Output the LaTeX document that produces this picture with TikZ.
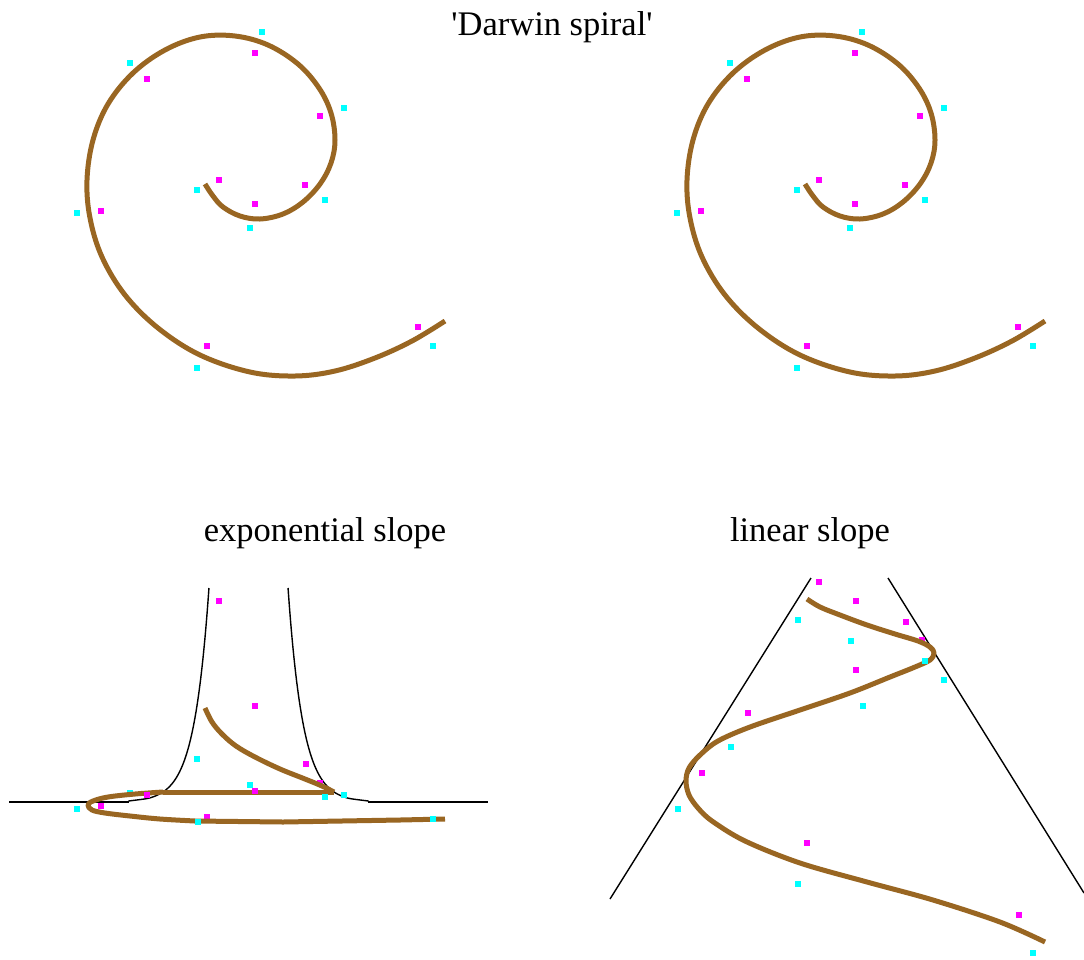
\documentclass[tikz,border=0pt]{standalone}
\usepackage{fontspec}
\setmainfont{Liberation Serif}
\definecolor{spiralbrown}{RGB}{153,102,34}
\definecolor{dotcyan}{RGB}{0,255,255}
\definecolor{dotmag}{RGB}{255,0,255}
\newcommand\DarwinSpiralPath{plot[smooth,tension=0.6] coordinates {(205,184) (213,196) (223,207) (240,216) (260,219) (283,214) (303,202) (320,184) (331,163) (335,140) (331,113) (319,88) (298,64) (268,45) (235,36) (200,37) (165,50) (133,73) (108,104) (93,140) (87,180) (90,218) (102,257) (125,295) (158,328) (200,355) (250,372) (295,376) (335,371) (375,358) (412,341) (445,321)}}
\begin{document}
\begin{tikzpicture}[x=1pt,y=-1pt,
  curve/.style={draw=spiralbrown,line width=5pt,line join=round},
  guide/.style={draw=black,line width=1.4pt},
  cdot/.style={rectangle,fill=dotcyan,minimum size=6pt,inner sep=0pt},
  mdot/.style={rectangle,fill=dotmag,minimum size=6pt,inner sep=0pt},
  lab/.style={anchor=base,inner sep=0pt,font=\fontsize{34.5}{40}\selectfont}]
\useasboundingbox[fill=white] (0,0) rectangle (1084,959);

% titles
\node[lab] (t1) at (552,35) {\textquotesingle Darwin spiral\textquotesingle};
\node[lab] (t2) at (325,541) {exponential slope};
\node[lab] (t3) at (810,541) {linear slope};

% Darwin spirals
\foreach \sx in {0,600}{
\begin{scope}[xshift=\sx pt]
\draw[curve] \DarwinSpiralPath;
\foreach \p in {(262,32),(130,63),(344,108),(197,190),(325,200),(250,228),(77,213),(433,346),(197,368)}
  \node[cdot] at \p {};
\foreach \p in {(255,53),(147,79),(320,116),(219,180),(305,185),(255,204),(101,211),(418,327),(207,346)}
  \node[mdot] at \p {};
\end{scope}}

% exponential slope
\draw[guide] (9,802) -- (129,802);
\draw[guide] plot[domain=1:214,samples=90,smooth] ({163+15*ln(\x/10)},{802-\x});
\draw[guide] plot[domain=1:214,samples=90,smooth] ({334-15*ln(\x/10)},{802-\x});
\draw[guide] (368,802) -- (488,802);
\node[mdot] at (320,783) {};
\node[mdot] at (207,817) {};
\node[cdot] at (130,793) {};
\draw[curve] plot[smooth,tension=0.6] coordinates {(205,708) (212,722) (222,734) (236,746) (255,757) (280,769) (305,779) (322,786) (334,792)};
\draw[curve] (334,792) -- (163,792);
\draw[curve] plot[smooth,tension=0.6] coordinates {(163,792) (135,794) (108,797) (93,801) (88,805) (92,810) (105,813) (130,816) (160,819) (195,821)};
\draw[curve] (195,821) -- (283,822) -- (400,820) -- (445,819);
\foreach \p in {(197,759),(250,785),(325,797),(344,795),(77,809),(198,822),(433,819)}
  \node[cdot] at \p {};
\foreach \p in {(219,601),(255,706),(306,764),(255,791),(147,795),(101,806)}
  \node[mdot] at \p {};

% linear slope
\draw[guide] (811,578) -- (610,899);
\draw[guide] (888,578) -- (1084,893);
\node[mdot] at (922,640) {};
\draw[curve] plot[smooth,tension=0.55] coordinates {(807,599) (820,607) (840,615) (867,625) (895,634) (918,641) (930,647) (934,653) (930,660) (915,667) (890,677) (850,693) (800,710) (750,727) (718,741) (700,755) (689,768) (686,781) (689,795) (698,808) (712,821) (745,841) (800,863) (867,882) (933,900) (1000,922) (1045,942)};
\foreach \p in {(798,620),(851,641),(925,661),(944,680),(863,706),(731,747),(678,809),(798,884),(1033,953)}
  \node[cdot] at \p {};
\foreach \p in {(819,582),(856,601),(906,622),(856,670),(748,713),(702,773),(807,843),(1019,915)}
  \node[mdot] at \p {};
\end{tikzpicture}
\end{document}
